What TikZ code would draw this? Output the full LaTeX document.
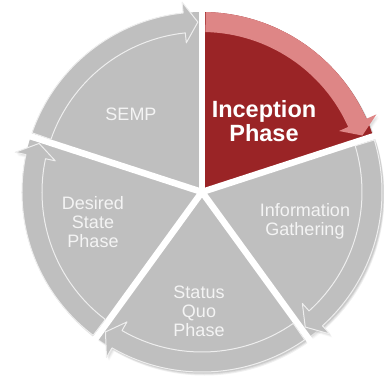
\documentclass[tikz,border=0pt]{standalone}
\usepackage{fontspec}
\setmainfont{Liberation Sans}
\definecolor{wedgegray}{RGB}{191,191,191}
\definecolor{rimwhite}{RGB}{238,238,238}
\definecolor{incred}{RGB}{154,36,38}
\definecolor{incpink}{RGB}{222,134,134}
\definecolor{lbltext}{RGB}{244,244,244}
\definecolor{shadowgray}{RGB}{120,120,120}
\tikzset{
  wedgefill/.style={fill=wedgegray},
  bandgray/.style={fill=wedgegray, draw=rimwhite, line width=1pt, line join=round},
  bandpink/.style={fill=incpink},
  gapline/.style={draw=white, line width=6.5pt},
  shadowfill/.style={fill=shadowgray, fill opacity=#1},
  lbl/.style={text=lbltext, font=\fontsize{18}{19}\selectfont, align=center, inner sep=0pt},
  lblbold/.style={text=white, font=\bfseries\fontsize{23.5}{24}\selectfont, align=center, inner sep=0pt},
}
\newcommand{\drawwedge}[2]{%
  \pgfmathsetmacro{\wend}{#1-72}%
  \path[#2] (0,0) -- (#1:180pt) arc[start angle=#1, end angle=\wend, radius=180pt] -- cycle;}
\newcommand{\drawband}[2]{%
  \pgfmathsetmacro{\bs}{#1-1.2}%
  \pgfmathsetmacro{\bb}{#1-72+6}%
  \pgfmathsetmacro{\bt}{#1-72+1.4}%
  \path[#2] (\bs:180pt) arc[start angle=\bs, end angle=\bb, radius=180pt]
  -- (\bb:191pt) -- (\bt:170pt) -- (\bb:150pt) -- (\bb:160pt)
  arc[start angle=\bb, end angle=\bs, radius=160pt] -- cycle;}
\begin{document}
\begin{tikzpicture}[x=1pt,y=1pt]
\useasboundingbox (0,0) rectangle (384,-376);
\begin{scope}[shift={(202,-192)}]
  % soft shadow
  \foreach \dx/\dy/\op in {2.5/-3.5/0.06,2/-2.5/0.08,1.5/-1.5/0.10} {
    \begin{scope}[shift={(\dx,\dy)}]
      \foreach \a in {162,90,18,-54,-126} {
        \drawband{\a}{shadowfill=\op}
      }
      \path[shadowfill=\op] (0,0) circle[radius=180pt];
    \end{scope}
  }
  % wedges
  \foreach \a in {162,18,-54,-126} {
    \drawwedge{\a}{wedgefill}
  }
  \drawwedge{90}{fill=incred}
  % gaps
  \foreach \a in {90,18,-54,-126,162} {
    \draw[gapline] (0,0) -- (\a:186pt);
  }
  % arrow bands
  \foreach \a in {162,18,-54,-126} {
    \drawband{\a}{bandgray}
  }
  \drawband{90}{bandpink}
\end{scope}
\node[lbl] (semp) at (131,-114) {SEMP};
\node[lblbold] (incep) at (264,-121) {Inception\\Phase};
\node[lbl] (info) at (305,-221) {Information\\Gathering};
\node[lbl] (status) at (199,-311) {Status\\Quo\\Phase};
\node[lbl] (desired) at (93,-222) {Desired\\State\\Phase};
\end{tikzpicture}
\end{document}
